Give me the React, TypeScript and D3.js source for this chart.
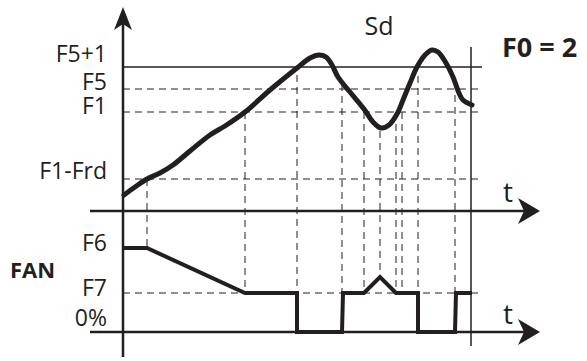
import React from "react";
import * as d3 from "d3";

// ---- data (time units, temperature units, fan % units) ----
const sdT = [1, 12, 24, 37, 50, 67, 87, 102, 122, 147, 174, 187, 196, 203, 209, 215, 227, 241, 250, 258, 266, 274, 280, 287, 294, 302, 309, 315, 323, 330, 336, 340, 349];
const sdV = [16, 24, 32, 38, 46, 60, 76, 85, 99, 121, 143, 153, 156, 154, 146, 134, 119, 102, 89, 83, 86, 97, 111, 128, 144, 156, 161, 159, 148, 134, 118, 111, 106];

const fanT = [0, 24, 122, 174, 174, 219, 220, 241, 257, 273, 295, 295, 332, 333, 349];
const fanV = [84, 84, 39, 39, 0, 0, 39, 39, 55, 39, 39, 0, 0, 39, 39];

const tempLevelNames = ["F5+1", "F5", "F1", "F1-Frd"];
const tempLevels = [144, 122, 99, 32];
const fanLevelNames = ["F6", "F7", "0%"];
const fanLevels = [84, 39, 0];

const markT = [24, 122, 174, 219, 241, 257, 273, 279, 295, 332];
const markTop = [32, 99, 136, 127, 99, 80, 99, 99, 135, 116];
const markBottom = [84, 39, 39, 39, 39, 55, 39, 39, 39, 39];

const W = 587;
const H = 361;
const INK = "#231f20";
const FONT = "'Open Sans', 'Noto Sans', sans-serif";

export default function App() {
  const x = d3.scaleLinear().domain([0, 350]).range([123, 473]);
  const yT = d3.scaleLinear().domain([0, 144]).range([211, 67]);
  const yF = d3.scaleLinear().domain([0, 100]).range([332, 232]);

  const sdLine = d3
    .line<number>()
    .x((_, i) => x(sdT[i]))
    .y((v) => yT(v))
    .curve(d3.curveCatmullRom.alpha(0.5));
  const fanLine = d3
    .line<number>()
    .x((_, i) => x(fanT[i]))
    .y((v) => yF(v));

  const x0 = x(0);
  const xEnd = x(359);
  const xAxisStart = x(-33);
  const xAxisEnd = x(417);
  const vLineX = x(348);

  const hArrow = (y: number) =>
    `M${xAxisEnd},${y} L${xAxisEnd - 22},${y - 13} L${xAxisEnd - 16},${y} L${xAxisEnd - 22},${y + 13} Z`;
  const yTop = 7;
  const vArrow = `M${x0},${yTop} L${x0 - 9},${yTop + 23} L${x0},${yTop + 17} L${x0 + 9},${yTop + 23} Z`;

  return (
    <svg width={W} height={H} style={{ position: "absolute", left: 0, top: 0, background: "#fff" }}>
      {/* dashed threshold lines */}
      {tempLevels.map((v, i) =>
        i === 0 ? (
          <line key={i} x1={x0} x2={xEnd} y1={yT(v)} y2={yT(v)} stroke={INK} strokeWidth={1.3} />
        ) : (
          <line key={i} x1={x0} x2={xEnd} y1={yT(v)} y2={yT(v)} stroke={INK} strokeWidth={1} strokeDasharray="7,5" />
        )
      )}
      <line x1={x0} x2={xEnd} y1={yF(fanLevels[1])} y2={yF(fanLevels[1])} stroke={INK} strokeWidth={1} strokeDasharray="7,5" />

      {/* vertical dashed markers */}
      {markT.map((t, i) => (
        <line
          key={i}
          x1={x(t)}
          x2={x(t)}
          y1={yT(markTop[i])}
          y2={yF(markBottom[i])}
          stroke={INK}
          strokeWidth={1}
          strokeDasharray="7,5"
        />
      ))}

      {/* right solid vertical */}
      <line x1={vLineX} x2={vLineX} y1={47} y2={346} stroke={INK} strokeWidth={1.5} />

      {/* axes */}
      <line x1={x0} x2={x0} y1={yTop + 15} y2={357} stroke={INK} strokeWidth={2.5} />
      <path d={vArrow} fill={INK} />
      {[yT(0), yF(0)].map((y, i) => (
        <g key={i}>
          <line x1={xAxisStart} x2={xAxisEnd - 14} y1={y} y2={y} stroke={INK} strokeWidth={2.5} />
          <path d={hArrow(y)} fill={INK} />
        </g>
      ))}

      {/* curves */}
      <path d={sdLine(sdV) || ""} fill="none" stroke={INK} strokeWidth={5} strokeLinejoin="round" strokeLinecap="round" />
      <path d={fanLine(fanV) || ""} fill="none" stroke={INK} strokeWidth={4} strokeLinejoin="miter" />

      {/* labels */}
      <g fontFamily={FONT} fill={INK} fontSize={23}>
        {tempLevelNames.map((n, i) => (
          <text key={n} x={107} y={yT(tempLevels[i]) + [-5, 1, 2, 0][i]} textAnchor="end">
            {n}
          </text>
        ))}
        {fanLevelNames.map((n, i) => (
          <text key={n} x={107} y={yF(fanLevels[i]) + [3, 3, -6][i]} textAnchor="end">
            {n}
          </text>
        ))}
        <text x={10} y={278} fontWeight="bold" fontSize={22}>FAN</text>
        <text x={379} y={35} textAnchor="middle" fontSize={25}>Sd</text>
        <text x={502} y={57} fontWeight="bold" fontSize={27}>F0 = 2</text>
        <text x={503} y={202} fontSize={28}>t</text>
        <text x={503} y={324} fontSize={28}>t</text>
      </g>
    </svg>
  );
}
